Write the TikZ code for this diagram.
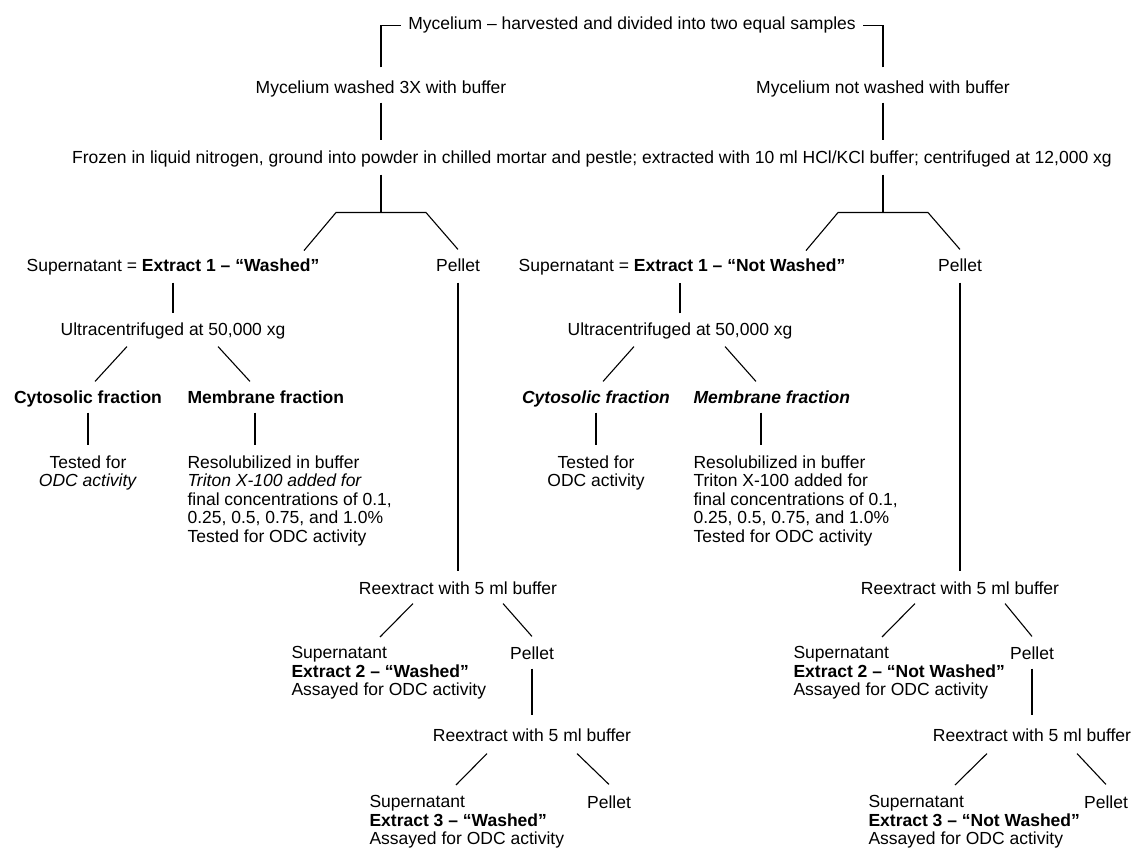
\documentclass[tikz,border=0pt]{standalone}
\usepackage{fontspec}
\setmainfont{Liberation Sans}
\usetikzlibrary{calc, positioning}

\begin{document}
\begin{tikzpicture}[x=1pt, y=-1pt, line width=1.1pt,
    every node/.style={inner sep=0pt, font=\fontsize{17.5}{18.5}\selectfont},
    lbl/.style={anchor=base, text height=13pt, text depth=4pt},
    blk/.style={anchor=north west, align=left},
    cblk/.style={anchor=north, align=center}]

    \useasboundingbox (0,0) rectangle (1133,850);

    % top: the harvested mycelium and its two samples
    \node[lbl] (title) at (632,30) {Mycelium – harvested and divided into two equal samples};
    \node[lbl] (washL) at (381,94) {Mycelium washed 3X with buffer};
    \node[lbl] (washR) at (883,94) {Mycelium not washed with buffer};
    \node[lbl] (frozen) at (592,164) {Frozen in liquid nitrogen, ground into powder in chilled mortar and pestle; extracted with 10 ml HCl/KCl buffer; centrifuged at 12,000 xg};

    % first centrifugation
    \node[lbl] (supL) at (173,272) {Supernatant = \textbf{Extract 1 – “Washed”}};
    \node[lbl] (pelL) at (458,272) {Pellet};
    \node[lbl] (supR) at (682,272) {Supernatant = \textbf{Extract 1 – “Not Washed”}};
    \node[lbl] (pelR) at (960,272) {Pellet};

    % ultracentrifugation of extract 1
    \node[lbl] (ultraL) at (173,336) {Ultracentrifuged at 50,000 xg};
    \node[lbl] (ultraR) at (680,336) {Ultracentrifuged at 50,000 xg};
    \node[lbl] (cytoL) at (88,403) {\textbf{Cytosolic fraction}};
    \node[lbl, anchor=base west] (membL) at (187,403) {\textbf{Membrane fraction}};
    \node[lbl] (cytoR) at (596,403) {\textbf{\textit{Cytosolic fraction}}};
    \node[lbl, anchor=base west] (membR) at (693,403) {\textbf{\textit{Membrane fraction}}};
    \node[cblk] (testL) at (88,455) {Tested for\\\textit{ODC activity}};
    \node[blk] (resolL) at (187,455) {Resolubilized in buffer\\\textit{Triton X-100 added for}\\final concentrations of 0.1,\\0.25, 0.5, 0.75, and 1.0\%\\Tested for ODC activity};
    \node[cblk] (testR) at (596,455) {Tested for\\ODC activity};
    \node[blk] (resolR) at (693,455) {Resolubilized in buffer\\Triton X-100 added for\\final concentrations of 0.1,\\0.25, 0.5, 0.75, and 1.0\%\\Tested for ODC activity};

    % reextraction of the pellet (washed)
    \node[lbl] (reexL1) at (458,594) {Reextract with 5 ml buffer};
    \node[blk] (sup2L) at (291,646) {Supernatant\\\textbf{Extract 2 – “Washed”}\\Assayed for ODC activity};
    \node[lbl] (pel2L) at (532,659) {Pellet};
    \node[lbl] (reexL2) at (532,741) {Reextract with 5 ml buffer};
    \node[blk] (sup3L) at (369,795) {Supernatant\\\textbf{Extract 3 – “Washed”}\\Assayed for ODC activity};
    \node[lbl] (pel3L) at (609,808) {Pellet};

    % reextraction of the pellet (not washed)
    \node[lbl] (reexR1) at (960,594) {Reextract with 5 ml buffer};
    \node[blk] (sup2R) at (793,646) {Supernatant\\\textbf{Extract 2 – “Not Washed”}\\Assayed for ODC activity};
    \node[lbl] (pel2R) at (1032,659) {Pellet};
    \node[lbl] (reexR2) at (1032,741) {Reextract with 5 ml buffer};
    \node[blk] (sup3R) at (868,795) {Supernatant\\\textbf{Extract 3 – “Not Washed”}\\Assayed for ODC activity};
    \node[lbl] (pel3R) at (1106,808) {Pellet};

    % bracket under the title
    \draw ($(washL.north)+(0,-13)$) |- ($(title.west)+(-7,0)$);
    \draw ($(washR.north)+(0,-13)$) |- ($(title.east)+(7,0)$);

    % samples to freezing step
    \draw ($(washL.south)+(0,4)$) -- ($(washL |- frozen.north)+(0,-10)$);
    \draw ($(washR.south)+(0,4)$) -- ($(washR |- frozen.north)+(0,-10)$);

    % forks after centrifugation
    \draw ($(washL |- frozen.south)+(0,6)$) -- ++(0,38) coordinate (forkL);
    \draw ($(forkL)+(-77,38)$) -- ++(32,-38) -- ++(90,0) -- ($(pelL.north)+(0,-9)$);
    \draw ($(washR |- frozen.south)+(0,6)$) -- ++(0,38) coordinate (forkR);
    \draw ($(forkR)+(-77,38)$) -- ++(32,-38) -- ++(90,0) -- ($(pelR.north)+(0,-9)$);

    % extract 1 branches
    \draw ($(supL.south)+(0,6)$) -- ($(ultraL.north)+(0,-9)$);
    \draw ($(ultraL.south)+(-46,6)$) -- ($(cytoL.north)+(7,-8)$);
    \draw ($(ultraL.south)+(45,6)$) -- ($(membL.north west)+(63,-8)$);
    \draw ($(cytoL.south)+(0,5)$) -- ($(testL.north)+(0,-10)$);
    \draw ($(membL.south west)+(68,5)$) -- ($(membL.south west |- resolL.north)+(68,-10)$);

    \draw ($(ultraR.north)+(0,-9)$) -- ($(ultraR.north |- supR.south)+(0,6)$);
    \draw ($(ultraR.south)+(-46,6)$) -- ($(cytoR.north)+(7,-8)$);
    \draw ($(ultraR.south)+(45,6)$) -- ($(membR.north west)+(63,-8)$);
    \draw ($(cytoR.south)+(0,5)$) -- ($(testR.north)+(0,-10)$);
    \draw ($(membR.south west)+(68,5)$) -- ($(membR.south west |- resolR.north)+(68,-10)$);

    % pellet branches
    \draw ($(pelL.south)+(0,6)$) -- ($(reexL1.north)+(0,-9)$);
    \draw ($(reexL1.south)+(-45,5)$) -- ($(sup2L.north west)+(89,-9)$);
    \draw ($(reexL1.south)+(45,5)$) -- ($(pel2L.north)+(0,-9)$);
    \draw ($(pel2L.south)+(0,5)$) -- ($(reexL2.north)+(0,-12)$);
    \draw ($(reexL2.south)+(-45,8)$) -- ($(sup3L.north west)+(87,-10)$);
    \draw ($(reexL2.south)+(45,8)$) -- ($(pel3L.north)+(0,-10)$);

    \draw ($(pelR.south)+(0,6)$) -- ($(reexR1.north)+(0,-9)$);
    \draw ($(reexR1.south)+(-45,5)$) -- ($(sup2R.north west)+(89,-9)$);
    \draw ($(reexR1.south)+(45,5)$) -- ($(pel2R.north)+(0,-9)$);
    \draw ($(pel2R.south)+(0,5)$) -- ($(reexR2.north)+(0,-12)$);
    \draw ($(reexR2.south)+(-45,8)$) -- ($(sup3R.north west)+(87,-10)$);
    \draw ($(reexR2.south)+(45,8)$) -- ($(pel3R.north)+(0,-10)$);
\end{tikzpicture}
\end{document}
